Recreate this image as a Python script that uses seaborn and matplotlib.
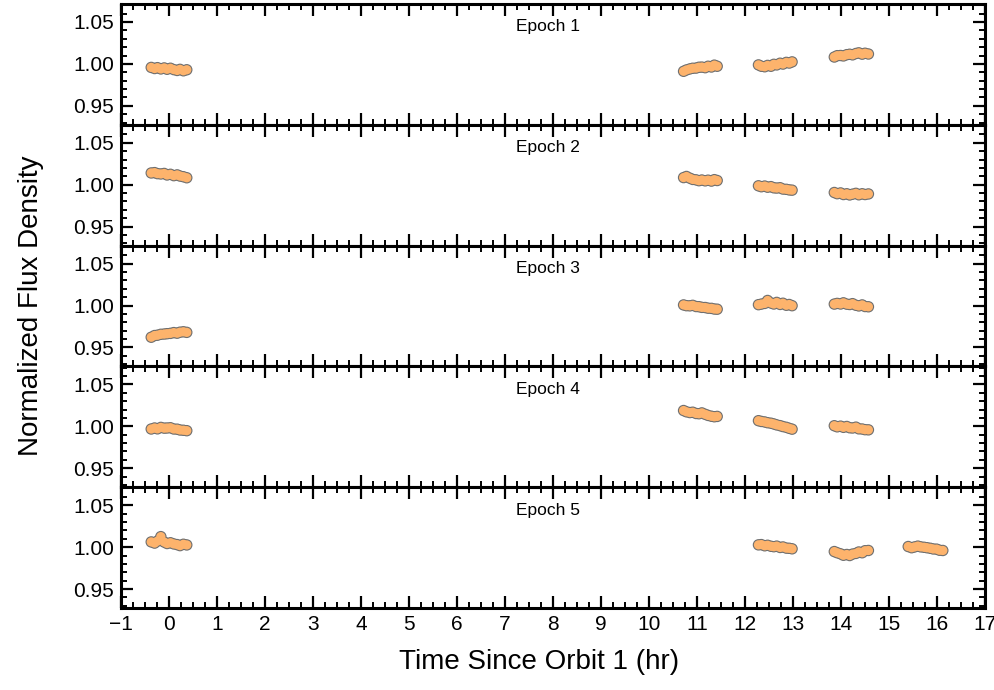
import matplotlib
matplotlib.use("Agg")
import matplotlib.pyplot as plt
from matplotlib.ticker import MultipleLocator, FormatStrFormatter
import seaborn as sns
import pandas as pd

# ---------------- data ----------------
epoch_labels = ["Epoch 1", "Epoch 2", "Epoch 3", "Epoch 4", "Epoch 5"]

# time samples of each HST orbit (hr)
t_orbit1 = [-0.37, -0.30, -0.24, -0.17, -0.10, -0.04, 0.03, 0.10, 0.17, 0.23, 0.30, 0.37]
t_orbit2 = [10.72, 10.78, 10.85, 10.91, 10.98, 11.04, 11.10, 11.17, 11.23, 11.30, 11.36, 11.42]
t_orbit3 = [12.28, 12.34, 12.41, 12.47, 12.54, 12.60, 12.66, 12.73, 12.79, 12.86, 12.92, 12.98]
t_orbit4 = [13.86, 13.92, 13.99, 14.05, 14.12, 14.18, 14.24, 14.31, 14.37, 14.44, 14.50, 14.57]
t_orbit5 = [15.40, 15.47, 15.53, 15.60, 15.66, 15.73, 15.79, 15.86, 15.92, 15.99, 16.05, 16.12]

# Epoch 1
e1_o1 = [0.9958, 0.9945, 0.9955, 0.9940, 0.9952, 0.9936, 0.9948, 0.9932, 0.9922, 0.9935, 0.9918, 0.9930]
e1_o2 = [0.9912, 0.9928, 0.9940, 0.9948, 0.9950, 0.9960, 0.9962, 0.9955, 0.9972, 0.9963, 0.9985, 0.9972]
e1_o3 = [0.9988, 0.9972, 0.9966, 0.9982, 0.9972, 0.9995, 0.9988, 1.0008, 0.9998, 1.0018, 1.0010, 1.0024]
e1_o4 = [1.0082, 1.0098, 1.0100, 1.0095, 1.0110, 1.0115, 1.0108, 1.0124, 1.0132, 1.0116, 1.0127, 1.0118]
# Epoch 2
e2_o1 = [1.0140, 1.0144, 1.0132, 1.0128, 1.0134, 1.0116, 1.0124, 1.0108, 1.0117, 1.0103, 1.0095, 1.0083]
e2_o2 = [1.0085, 1.0098, 1.0078, 1.0063, 1.0058, 1.0048, 1.0056, 1.0046, 1.0054, 1.0043, 1.0060, 1.0050]
e2_o3 = [0.9987, 0.9976, 0.9984, 0.9970, 0.9977, 0.9963, 0.9960, 0.9964, 0.9948, 0.9945, 0.9938, 0.9935]
e2_o4 = [0.9907, 0.9893, 0.9902, 0.9883, 0.9892, 0.9878, 0.9887, 0.9897, 0.9880, 0.9892, 0.9883, 0.9890]
# Epoch 3
e3_o1 = [0.9622, 0.9642, 0.9646, 0.9657, 0.9660, 0.9664, 0.9668, 0.9677, 0.9670, 0.9682, 0.9687, 0.9680]
e3_o2 = [1.0007, 0.9998, 0.9996, 1.0002, 0.9988, 0.9986, 0.9978, 0.9976, 0.9968, 0.9966, 0.9958, 0.9956]
e3_o3 = [1.0010, 1.0017, 1.0025, 1.0060, 1.0030, 1.0018, 1.0037, 1.0013, 1.0027, 1.0003, 1.0012, 0.9998]
e3_o4 = [1.0017, 1.0025, 1.0018, 1.0032, 1.0016, 1.0012, 1.0022, 1.0003, 0.9995, 1.0007, 0.9988, 0.9985]
# Epoch 4
e4_o1 = [0.9968, 0.9980, 0.9970, 0.9987, 0.9978, 0.9980, 0.9983, 0.9968, 0.9966, 0.9956, 0.9953, 0.9948]
e4_o2 = [1.0188, 1.0173, 1.0164, 1.0168, 1.0153, 1.0150, 1.0160, 1.0143, 1.0130, 1.0120, 1.0114, 1.0118]
e4_o3 = [1.0067, 1.0058, 1.0052, 1.0043, 1.0037, 1.0028, 1.0017, 1.0008, 0.9997, 0.9988, 0.9976, 0.9966]
e4_o4 = [1.0007, 0.9994, 1.0002, 0.9988, 0.9998, 0.9983, 0.9980, 0.9990, 0.9970, 0.9968, 0.9960, 0.9958]
# Epoch 5
e5_o1 = [1.0062, 1.0048, 1.0072, 1.0125, 1.0060, 1.0043, 1.0052, 1.0038, 1.0030, 1.0018, 1.0034, 1.0026]
e5_o3 = [1.0027, 1.0030, 1.0016, 1.0022, 1.0010, 1.0005, 1.0012, 0.9996, 1.0002, 0.9988, 0.9986, 0.9980]
e5_o4 = [0.9947, 0.9933, 0.9920, 0.9903, 0.9912, 0.9900, 0.9917, 0.9925, 0.9942, 0.9933, 0.9957, 0.9960]
e5_o5 = [1.0007, 0.9993, 1.0002, 1.0012, 1.0003, 0.9998, 0.9993, 0.9986, 0.9978, 0.9976, 0.9963, 0.9960]

epochs = [
    [(t_orbit1, e1_o1), (t_orbit2, e1_o2), (t_orbit3, e1_o3), (t_orbit4, e1_o4)],
    [(t_orbit1, e2_o1), (t_orbit2, e2_o2), (t_orbit3, e2_o3), (t_orbit4, e2_o4)],
    [(t_orbit1, e3_o1), (t_orbit2, e3_o2), (t_orbit3, e3_o3), (t_orbit4, e3_o4)],
    [(t_orbit1, e4_o1), (t_orbit2, e4_o2), (t_orbit3, e4_o3), (t_orbit4, e4_o4)],
    [(t_orbit1, e5_o1), (t_orbit3, e5_o3), (t_orbit4, e5_o4), (t_orbit5, e5_o5)],
]

x_ticks = list(range(-1, 18))

# ---------------- style ----------------
sns.set_style("ticks")
plt.rcParams["font.family"] = ["Liberation Sans", "DejaVu Sans"]
plt.rcParams["text.color"] = "black"
plt.rcParams["axes.labelcolor"] = "black"
plt.rcParams["xtick.color"] = "black"
plt.rcParams["ytick.color"] = "black"

fill_color = "#FDB36C"
edge_color = "#6f6f6f"

fig, axes = plt.subplots(5, 1, figsize=(9.95, 6.9), dpi=100, sharex=True)
fig.subplots_adjust(left=0.1216, right=0.99, top=0.9942, bottom=0.1188, hspace=0)

for i, ax in enumerate(axes):
    rows = []
    for seg, (tt, ff) in enumerate(epochs[i]):
        for t, f in zip(tt, ff):
            rows.append({"time": t, "flux": f, "orbit": seg})
    df = pd.DataFrame(rows)
    # outline layer, then fill layer on top
    sns.scatterplot(data=df, x="time", y="flux", ax=ax, s=68, color=edge_color,
                    edgecolor="none", linewidth=0, legend=False, zorder=2)
    sns.scatterplot(data=df, x="time", y="flux", ax=ax, s=44, color=fill_color,
                    edgecolor="none", linewidth=0, legend=False, zorder=3)

    ax.set_xlim(-1, 17)
    ax.set_ylim(0.9274, 1.0714)
    ax.set_xticks(x_ticks)
    ax.xaxis.set_minor_locator(MultipleLocator(0.25))
    ax.yaxis.set_major_locator(MultipleLocator(0.05))
    ax.yaxis.set_minor_locator(MultipleLocator(0.01))
    ax.yaxis.set_major_formatter(FormatStrFormatter("%.2f"))
    ax.tick_params(which="both", direction="in", top=True, right=True,
                   bottom=True, left=True, labelsize=15, color="black",
                   labelcolor="black")
    ax.tick_params(which="major", length=8.5, width=1.6, pad=5)
    ax.tick_params(which="minor", length=4.3, width=1.4)
    for sp in ax.spines.values():
        sp.set_linewidth(2.2)
        sp.set_color("black")
    ax.set_xlabel("")
    ax.set_ylabel("")
    ax.text(0.494, 0.81, epoch_labels[i], transform=ax.transAxes,
            ha="center", va="center", fontsize=12.5, color="black")

fig.text(0.031, 0.5565, "Normalized Flux Density", rotation=90,
         ha="center", va="center", fontsize=20, color="black")
fig.text(0.5416, 0.0406, "Time Since Orbit 1 (hr)", ha="center", va="center",
         fontsize=20, color="black")

fig.savefig("out.png", dpi=100)
